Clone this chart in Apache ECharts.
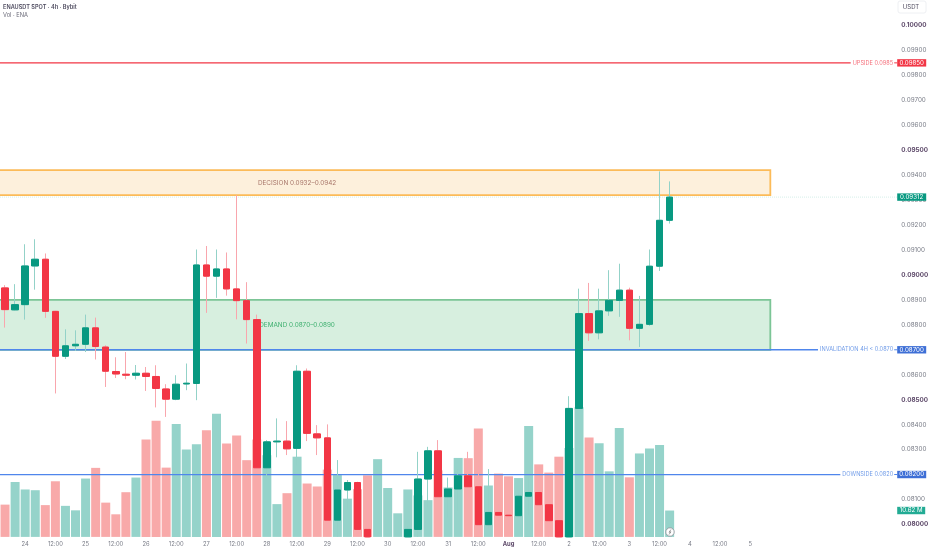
<!DOCTYPE html>
<html>
<head>
<meta charset="utf-8">
<style>html,body{margin:0;padding:0;background:#fff}#c{width:932px;height:550px}</style>
<script src="https://cdn.jsdelivr.net/npm/echarts@6/dist/echarts.min.js"></script>
</head>
<body>
<div id="c"></div>
<script>
// [open, close, low, high]
const candles = [
[0.08948,0.08861,0.08789,0.08959],[0.08860,0.08881,0.08858,0.08963],[0.08881,0.09036,0.08821,0.09123],[0.09036,0.09063,0.08941,0.09143],
[0.09063,0.08854,0.08828,0.09086],[0.08854,0.08674,0.08525,0.08856],[0.08674,0.08716,0.08663,0.08782],[0.08716,0.08722,0.08695,0.08778],
[0.08722,0.08788,0.08691,0.08841],[0.08788,0.08713,0.08661,0.08829],[0.08711,0.08614,0.08551,0.08718],[0.08613,0.08603,0.08587,0.08670],
[0.08602,0.08598,0.08582,0.08691],[0.08598,0.08606,0.08581,0.08639],[0.08606,0.08593,0.08535,0.08631],[0.08593,0.08545,0.08469,0.08638],
[0.08543,0.08502,0.08431,0.08562],[0.08502,0.08562,0.08498,0.08598],[0.08563,0.08566,0.08538,0.08645],[0.08565,0.09040,0.08498,0.09102],
[0.09040,0.08995,0.08848,0.09116],[0.08995,0.09024,0.08908,0.09102],[0.09024,0.08944,0.08917,0.09090],[0.08944,0.08897,0.08822,0.09319],
[0.08897,0.08821,0.08725,0.08971],[0.08821,0.08227,0.08204,0.08841],[0.08227,0.08331,0.08187,0.08338],[0.08331,0.08334,0.08269,0.08425],
[0.08334,0.08303,0.08278,0.08414],[0.08305,0.08614,0.08238,0.08638],[0.08614,0.08365,0.08334,0.08625],[0.08363,0.08347,0.08278,0.08398],
[0.08347,0.08017,0.07989,0.08401],[0.08017,0.08138,0.07951,0.08258],[0.08138,0.08168,0.08061,0.08178],[0.08168,0.07980,0.07961,0.08171],
[0.07980,0.07950,0.07950,0.08093],[0.07895,0.07925,0.07880,0.07940],[0.07900,0.07920,0.07890,0.07935],[0.07905,0.07930,0.07890,0.07945],
[0.07950,0.07980,0.07950,0.07993],[0.07980,0.08182,0.07950,0.08291],[0.08182,0.08295,0.08068,0.08311],[0.08295,0.08111,0.08110,0.08338],
[0.08111,0.08142,0.08028,0.08188],[0.08142,0.08195,0.08055,0.08222],[0.08195,0.08151,0.08100,0.08291],[0.08151,0.07999,0.07961,0.08234],
[0.07999,0.08048,0.07981,0.08222],[0.08048,0.08037,0.08007,0.08078],[0.08037,0.08035,0.07997,0.08084],[0.08035,0.08113,0.08031,0.08127],
[0.08113,0.08128,0.08037,0.08188],[0.08128,0.08079,0.08077,0.08178],[0.08079,0.08015,0.07951,0.08138],[0.08015,0.07950,0.07950,0.08033],
[0.07950,0.08465,0.07950,0.08514],[0.08465,0.08845,0.08463,0.08945],[0.08845,0.08768,0.08736,0.08968],[0.08768,0.08856,0.08742,0.08945],
[0.08856,0.08898,0.08836,0.09019],[0.08898,0.08939,0.08832,0.09045],[0.08939,0.08786,0.08738,0.08949],[0.08786,0.08802,0.08711,0.08916],
[0.08802,0.09035,0.08796,0.09102],[0.09035,0.09219,0.09016,0.09415],[0.09219,0.09312,0.09206,0.09375]
];
// volume in millions
const volumes = [13.0,22.1,19.1,18.8,12.8,22.4,12.5,10.7,23.5,27.8,13.8,9.1,18.0,23.9,39.2,46.8,27.9,45.5,35.2,37.3,42.9,49.6,37.6,40.8,30.9,39.2,32.9,13.2,17.6,32.3,21.5,20.3,27.1,24.9,15.4,19.2,24.8,31.3,19.7,9.5,19.1,16.7,14.8,26.8,19.9,31.8,31.7,43.7,20.7,25.5,24.4,23.7,44.7,29.2,25.9,32.3,35.8,52.2,40.0,37.7,26.4,43.9,24.0,33.6,35.6,37.0,10.62];
const slotCount = 89;
const tickSlots = [2,5,8,11,14,17,20,23,26,29,32,35,38,41,44,47,50,53,56,59,62,65,68,71,74];
const tickLabels = ['24','12:00','25','12:00','26','12:00','27','12:00','28','12:00','29','12:00','30','12:00','31','12:00','Aug','12:00','2','12:00','3','12:00','4','12:00','5'];
const priceTicks = [0.08,0.081,0.082,0.083,0.084,0.085,0.086,0.087,0.088,0.089,0.09,0.091,0.092,0.093,0.094,0.095,0.096,0.097,0.098,0.099,0.1];
const majorTicks = [0.08,0.085,0.09,0.095,0.1];
const zoneNames = ['DECISION 0.0932–0.0942','DEMAND 0.0870–0.0890'];
const zoneLows = [0.0932,0.087];
const zoneHighs = [0.0942,0.089];
const levelNames = ['UPSIDE 0.0985','INVALIDATION 4H < 0.0870','DOWNSIDE 0.0820'];
const levelPrices = [0.0985,0.087,0.082];
const lastPrice = 0.09312;
const lastVolume = 10.62;

const FONT = 'Inter, "Noto Sans", sans-serif';
const GREEN='#089981', RED='#f23645', WICK_G='#93d2c8', WICK_R='#f9a6ad', VOL_G='#95d3ca', VOL_R='#f8a9a9';
const categories = Array.from({length:slotCount},(_,i)=>String(i));
const labelOf = {}; tickSlots.forEach((s,i)=>labelOf[s]=tickLabels[i]);
const levelStyle = [
  {line:'#f23645',text:'#f5707c',box:'#f23645',width:1.1},
  {line:'#4f86ec',text:'#6f9be8',box:'#3e6fd6',width:1.5},
  {line:'#4f86ec',text:'#6f9be8',box:'#3e6fd6',width:1.2}
];
const zoneStyle = [
  {fill:'#fdf0dc',stroke:'#fcbb58',text:'#a8766a'},
  {fill:'#d7efdf',stroke:'#7cc596',text:'#3fb070'}
];
const measure = document.createElement('canvas').getContext('2d');
function widthOf(t,f){measure.font=f;return measure.measureText(t).width;}

function drawZone(params, api){
  const i = api.value(3), st = zoneStyle[i], cs = params.coordSys;
  const tl = api.coord([api.value(0), api.value(2)]);
  const br = api.coord([api.value(0), api.value(1)]);
  const left = cs.x - 6;
  const mid = api.coord([29,(api.value(1)+api.value(2))/2]);
  return {type:'group',children:[
    {type:'rect',shape:{x:left,y:tl[1],width:tl[0]-left,height:br[1]-tl[1]},
     style:{fill:st.fill,stroke:st.stroke,lineWidth:1.8}},
    {type:'text',style:{text:zoneNames[i],x:mid[0],y:mid[1],fill:st.text,font:'6.4px '+FONT,align:'center',verticalAlign:'middle'}}
  ]};
}
function drawLevel(params, api){
  const i = api.value(2), st = levelStyle[i], cs = params.coordSys;
  const y = api.coord([0, api.value(1)])[1];
  const right = cs.x + cs.width;
  const f = '5.6px '+FONT;
  const textRight = right - 3;
  const tw = widthOf(levelNames[i], f);
  return {type:'group',children:[
    {type:'line',shape:{x1:cs.x,y1:y,x2:textRight-tw-2,y2:y},style:{stroke:st.line,lineWidth:st.width}},
    {type:'text',style:{text:levelNames[i],x:textRight,y:y,fill:st.text,font:f,align:'right',verticalAlign:'middle'}},
    {type:'line',shape:{x1:right-2,y1:y,x2:right+1,y2:y},style:{stroke:st.line,lineWidth:1}},
    {type:'rect',shape:{x:right+1,y:y-3.7,width:29,height:7.4},style:{fill:st.box}},
    {type:'text',style:{text:api.value(1).toFixed(5),x:right+15.5,y:y,fill:'#fff',font:'6.2px '+FONT,align:'center',verticalAlign:'middle'}}
  ]};
}
function drawLast(params, api){
  const cs = params.coordSys, right = cs.x+cs.width;
  const y = api.coord([0, api.value(1)])[1];
  return {type:'group',children:[
    {type:'line',shape:{x1:cs.x,y1:y,x2:right+1,y2:y},style:{stroke:'#d5efe9',lineWidth:1,lineDash:[1,1]}},
    {type:'rect',shape:{x:right+1,y:y-3.7,width:29,height:7.4},style:{fill:GREEN}},
    {type:'text',style:{text:api.value(1).toFixed(5),x:right+15.5,y:y,fill:'#fff',font:'6.2px '+FONT,align:'center',verticalAlign:'middle'}}
  ]};
}
function drawLastVol(params, api){
  const cs = params.coordSys, right = cs.x+cs.width;
  const y = api.coord([0, api.value(1)])[1];
  return {type:'group',children:[
    {type:'rect',shape:{x:right+1,y:y-3.7,width:28,height:7.4},style:{fill:'#22ab94'}},
    {type:'text',style:{text:api.value(1).toFixed(2)+' M',x:right+15,y:y,fill:'#fff',font:'6.2px '+FONT,align:'center',verticalAlign:'middle'}}
  ]};
}

const chart = echarts.init(document.getElementById('c'),null,{renderer:'canvas'});
chart.setOption({
  animation:false,
  backgroundColor:'#fff',
  title:[
    {text:'ENAUSDT SPOT · 4h · Bybit',left:3,top:4.2,padding:0,textStyle:{fontFamily:FONT,fontSize:5.6,fontWeight:600,color:'#4d4a5e'}},
    {text:'Vol · ENA',left:3,top:11.8,padding:0,textStyle:{fontFamily:FONT,fontSize:5.7,fontWeight:400,color:'#6a6a78'}}
  ],
  grid:{left:0,top:0.5,width:896.2,height:536.4,containLabel:false},
  xAxis:{type:'category',data:categories,boundaryGap:true,
    axisLine:{show:false},axisTick:{show:false},splitLine:{show:false},
    axisLabel:{margin:4.5,interval:(i)=>tickSlots.includes(i),hideOverlap:false,
      formatter:(v)=>{const t=labelOf[+v];return t==='Aug'?'{m|Aug}':(t||'');},
      fontFamily:FONT,fontSize:5.8,color:'#787b86',rich:{m:{fontFamily:FONT,fontSize:5.8,fontWeight:700,color:'#5e4a6a'}}}
  },
  yAxis:[
    {type:'value',min:0.0795,max:0.101,position:'right',
      axisLine:{show:false},axisTick:{show:false},splitLine:{show:false},
      axisLabel:{customValues:priceTicks,margin:5,align:'left',
        formatter:(v)=>{const s=v.toFixed(5);return majorTicks.some(m=>Math.abs(m-v)<1e-7)?'{b|'+s+'}':s;},
        fontFamily:FONT,fontSize:6.3,color:'#787b86',
        rich:{b:{fontFamily:FONT,fontSize:6.3,fontWeight:700,color:'#5e4a6a'}}}
    },
    {type:'value',min:0,max:216,show:false}
  ],
  series:[
    {name:'Vol',type:'bar',xAxisIndex:0,yAxisIndex:1,barWidth:9,z:1,silent:true,
      data:volumes.map((v,i)=>({value:v,itemStyle:{color:candles[i][1]>=candles[i][0]?VOL_G:VOL_R}}))},
    {name:'Zones',type:'custom',z:2,silent:true,renderItem:drawZone,encode:{x:0,y:1},
      data:zoneNames.map((n,i)=>[76,zoneLows[i],zoneHighs[i],i])},
    {name:'Levels',type:'custom',z:3,silent:true,renderItem:drawLevel,encode:{x:0,y:1},
      data:levelNames.map((n,i)=>[0,levelPrices[i],i])},
    {name:'Last',type:'custom',z:3,silent:true,renderItem:drawLast,encode:{x:0,y:1},data:[[0,lastPrice]]},
    {name:'LastVol',type:'custom',z:3,silent:true,yAxisIndex:1,renderItem:drawLastVol,encode:{x:0,y:1},data:[[0,lastVolume]]},
    {name:'Wicks',type:'candlestick',z:4,silent:true,barWidth:5,
      itemStyle:{color:WICK_G,color0:WICK_R,borderColor:WICK_G,borderColor0:WICK_R,borderWidth:1},
      data:candles},
    {name:'ENAUSDT',type:'candlestick',z:5,silent:true,barWidth:7,
      itemStyle:{color:GREEN,color0:RED,borderColor:GREEN,borderColor0:RED,borderWidth:1},
      data:candles.map(c=>[c[0],c[1],Math.min(c[0],c[1]),Math.max(c[0],c[1])])}
  ],
  graphic:[
    {type:'rect',shape:{x:898,y:1,width:28,height:12,r:2},style:{fill:'#fff',stroke:'#eef0f3',lineWidth:1},z:20},
    {type:'text',style:{text:'USDT',x:911,y:7,fill:'#4d4a5e',font:'6px '+FONT,align:'center',verticalAlign:'middle'},z:21},
    {type:'circle',shape:{cx:670,cy:532,r:4.2},style:{fill:'#fff',stroke:'#8a8d96',lineWidth:0.8},z:20},
    {type:'polyline',shape:{points:[[671,529.5],[669,532.3],[671,531.8],[669,534.5]]},style:{stroke:'#777',fill:'none',lineWidth:0.7},z:21}
  ]
});
</script>
</body>
</html>
